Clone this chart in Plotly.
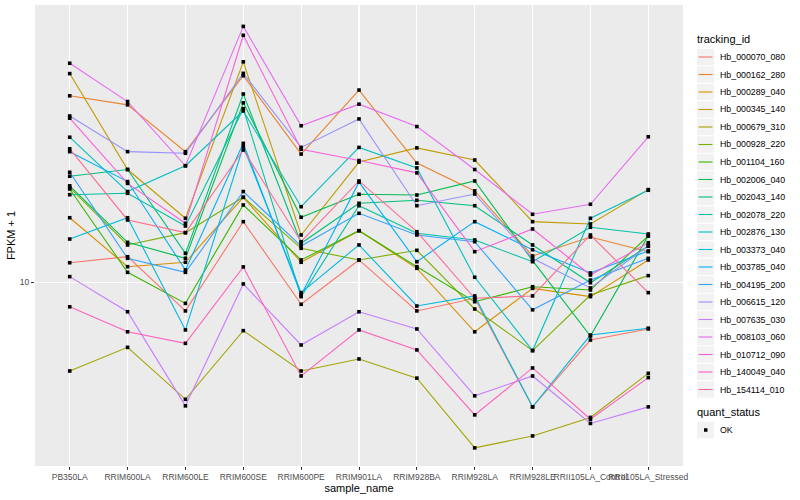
import plotly.graph_objects as go

samples = ["PB350LA", "RRIM600LA", "RRIM600LE", "RRIM600SE", "RRIM600PE", "RRIM901LA",
           "RRIM928BA", "RRIM928LA", "RRIM928LE", "RRII105LA_Control", "RRII105LA_Stressed"]

tracking_ids = ["Hb_000070_080", "Hb_000162_280", "Hb_000289_040", "Hb_000345_140", "Hb_000679_310",
                "Hb_000928_220", "Hb_001104_160", "Hb_002006_040", "Hb_002043_140", "Hb_002078_220",
                "Hb_002876_130", "Hb_003373_040", "Hb_003785_040", "Hb_004195_200", "Hb_006615_120",
                "Hb_007635_030", "Hb_008103_060", "Hb_010712_090", "Hb_140049_040", "Hb_154114_010"]

colors = ["#F8766D", "#EA8331", "#D89000", "#C09B00", "#A3A500", "#7CAE00", "#39B600", "#00BB4E",
          "#00BF7D", "#00C1A3", "#00BFC4", "#00BAE0", "#00B0F6", "#35A2FF", "#9590FF", "#C77CFF",
          "#E76BF3", "#FA62DB", "#FF62BC", "#FF6C91"]

quant_status = ["OK"]

# FPKM + 1 per sample (order of `samples`)
hb_000070_080 = [11.64, 12.19, 8.04, 15.95, 8.46, 11.89, 8.04, 8.86, 3.85, 6.43, 7.00]
hb_000162_280 = [41.9, 39.1, 27.3, 48.9, 26.8, 43.8, 25.0, 20.2, 12.26, 14.18, 12.67]
hb_000289_040 = [16.44, 11.29, 11.68, 19.23, 11.68, 14.88, 11.15, 6.85, 9.56, 8.97, 11.89]
hb_000345_140 = [49.7, 23.8, 16.37, 54.4, 14.40, 25.2, 28.1, 25.6, 15.95, 15.67, 20.4]
hb_000679_310 = [5.07, 6.08, 4.08, 6.91, 5.07, 5.56, 4.80, 2.81, 3.08, 3.55, 4.98]
hb_000928_220 = [20.7, 13.34, 14.66, 19.23, 13.00, 11.89, 12.80, 8.16, 5.93, 9.08, 10.54]
hb_001104_160 = [20.5, 10.81, 8.52, 18.13, 11.89, 14.88, 11.29, 8.63, 9.68, 9.44, 14.29]
hb_002006_040 = [21.0, 13.61, 12.04, 39.7, 16.50, 19.68, 19.57, 21.8, 11.82, 6.63, 14.32]
hb_002043_140 = [22.6, 23.8, 12.51, 42.5, 13.51, 18.37, 18.79, 18.03, 13.34, 9.98, 13.23]
hb_002078_220 = [19.62, 19.83, 15.43, 37.96, 8.97, 18.03, 14.59, 13.86, 11.73, 15.28, 14.51]
hb_002876_130 = [30.5, 20.1, 24.5, 37.3, 17.89, 28.2, 24.1, 10.41, 5.93, 16.37, 20.3]
hb_003373_040 = [13.96, 16.44, 6.95, 28.4, 9.25, 13.34, 8.35, 9.02, 3.85, 6.68, 7.04]
hb_003785_040 = [27.3, 21.7, 11.01, 29.1, 9.08, 21.6, 11.73, 15.95, 12.86, 10.76, 12.74]
hb_004195_200 = [23.3, 12.04, 10.81, 20.1, 13.23, 17.01, 14.40, 13.68, 8.11, 10.19, 12.04]
hb_006615_120 = [35.9, 27.3, 26.96, 49.8, 28.2, 35.1, 18.03, 19.72, 12.04, 9.59, 13.23]
hb_007635_030 = [10.46, 7.99, 3.88, 9.89, 6.19, 7.99, 7.00, 4.19, 4.88, 3.39, 3.85]
hb_008103_060 = [53.8, 40.1, 24.5, 71.4, 33.3, 39.3, 33.1, 23.8, 16.88, 18.23, 30.6]
hb_010712_090 = [35.3, 21.4, 15.75, 66.7, 27.8, 25.5, 23.2, 12.67, 15.08, 10.59, 13.57]
hb_140049_040 = [8.30, 6.85, 6.27, 11.27, 4.88, 6.95, 5.96, 3.62, 5.19, 3.50, 4.82]
hb_154114_010 = [27.9, 16.16, 14.66, 27.65, 13.68, 21.8, 14.77, 8.86, 9.02, 14.40, 9.25]

series = [hb_000070_080, hb_000162_280, hb_000289_040, hb_000345_140, hb_000679_310,
          hb_000928_220, hb_001104_160, hb_002006_040, hb_002043_140, hb_002078_220,
          hb_002876_130, hb_003373_040, hb_003785_040, hb_004195_200, hb_006615_120,
          hb_007635_030, hb_008103_060, hb_010712_090, hb_140049_040, hb_154114_010]

FONT = "Liberation Sans, Arial, Helvetica, sans-serif"
W, H = 800, 500
ML, MR, MT, MB = 35, 117, 5, 34
PW, PH = W - ML - MR, H - MT - MB


def px_x(px):
    return (px - ML) / PW


def px_y(py):
    return (H - MB - py) / PH


fig = go.Figure()
for name, col, vals in zip(tracking_ids, colors, series):
    fig.add_trace(go.Scatter(
        x=samples, y=vals, mode="lines", name=name,
        line=dict(color=col, width=1.1), showlegend=False,
    ))

all_x, all_y = [], []
for vals in series:
    all_x += samples
    all_y += vals
fig.add_trace(go.Scatter(
    x=all_x, y=all_y, mode="markers", name=quant_status[0],
    marker=dict(symbol="square", size=3.6, color="black"), showlegend=False,
))

# legend (ggplot-style), drawn in paper space
shapes, annots = [], []
KX0, KX1 = 697, 714
annots.append(dict(text="tracking_id", x=px_x(695), y=px_y(39), xref="paper", yref="paper",
                   xanchor="left", yanchor="middle", showarrow=False,
                   font=dict(size=11, color="black")))
for i, (name, col) in enumerate(zip(tracking_ids, colors)):
    cy = 57 + 17.5 * i
    shapes.append(dict(type="rect", xref="paper", yref="paper",
                       x0=px_x(KX0), x1=px_x(KX1), y0=px_y(cy - 8.2), y1=px_y(cy + 8.2),
                       fillcolor="#F2F2F2", line=dict(width=0), layer="above"))
    shapes.append(dict(type="line", xref="paper", yref="paper",
                       x0=px_x(KX0 + 1.5), x1=px_x(KX1 - 1.5), y0=px_y(cy), y1=px_y(cy),
                       line=dict(color=col, width=1.1), layer="above"))
    annots.append(dict(text=name, x=px_x(718), y=px_y(cy), xref="paper", yref="paper",
                       xanchor="left", yanchor="middle", showarrow=False,
                       font=dict(size=8.8, color="black")))
annots.append(dict(text="quant_status", x=px_x(695), y=px_y(412), xref="paper", yref="paper",
                   xanchor="left", yanchor="middle", showarrow=False,
                   font=dict(size=11, color="black")))
cy = 430
shapes.append(dict(type="rect", xref="paper", yref="paper",
                   x0=px_x(KX0), x1=px_x(KX1), y0=px_y(cy - 8.2), y1=px_y(cy + 8.2),
                   fillcolor="#F2F2F2", line=dict(width=0), layer="above"))
shapes.append(dict(type="rect", xref="paper", yref="paper",
                   x0=px_x(704), x1=px_x(707.5), y0=px_y(cy - 1.75), y1=px_y(cy + 1.75),
                   fillcolor="black", line=dict(width=0), layer="above"))
annots.append(dict(text=quant_status[0], x=px_x(718), y=px_y(cy), xref="paper", yref="paper",
                   xanchor="left", yanchor="middle", showarrow=False,
                   font=dict(size=8.8, color="black")))

fig.update_layout(
    width=W, height=H,
    margin=dict(l=ML, r=MR, t=MT, b=MB),
    paper_bgcolor="white", plot_bgcolor="#EBEBEB",
    font=dict(family=FONT, size=11, color="black"),
    showlegend=False,
    shapes=shapes, annotations=annots,
    xaxis=dict(
        type="category", categoryorder="array", categoryarray=samples,
        range=[-0.6, 10.6], showgrid=True, gridcolor="white", gridwidth=1.1,
        zeroline=False, showline=False, ticks="outside", ticklen=3, tickcolor="#333333",
        tickfont=dict(size=8.5, color="#4D4D4D"), tickangle=0, automargin=False,
        title=dict(text="sample_name", font=dict(size=11), standoff=3),
    ),
    yaxis=dict(
        type="log", range=[0.3883, 1.925], tickvals=[10], ticktext=["10"],
        showgrid=True, gridcolor="white", gridwidth=1.1, zeroline=False, showline=False,
        ticks="outside", ticklen=3, tickcolor="#333333", automargin=False,
        tickfont=dict(size=8.5, color="#4D4D4D"),
        title=dict(text="FPKM + 1", font=dict(size=11), standoff=1),
    ),
)

fig.write_html(
    "out.html",
    config={"displayModeBar": False, "staticPlot": True},
    post_script="document.body.style.margin='0px';document.body.style.overflow='hidden';",
)
